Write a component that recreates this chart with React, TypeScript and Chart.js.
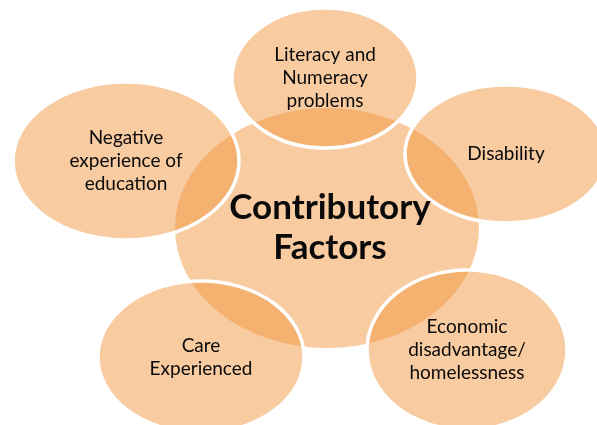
import React, { useEffect, useRef } from "react";
import { Chart, registerables } from "chart.js";

Chart.register(...registerables);

// Node labels: index 0 is the hub, the rest are the surrounding factors
const categories: string[][] = [
  ["Contributory", "Factors"],
  ["Literacy and", "Numeracy", "problems"],
  ["Disability"],
  ["Economic", "disadvantage/", "homelessness"],
  ["Care", "Experienced"],
  ["Negative", "experience of", "education"],
];

// Node centres and half-axes in diagram units
const nodeX = [327, 325, 506, 467, 201, 126];
const nodeY = [228, 78, 154, 350, 357, 161];
const nodeRx = [152, 93, 101, 100, 103, 113];
const nodeRy = [120, 70, 69, 80, 76, 79];

const FILL = "rgba(241,151,66,0.5)";

const diagramPlugin = {
  id: "radialDiagram",
  beforeDatasetsDraw(chart: any) {
    const { ctx, scales } = chart;
    const xs = scales.x;
    const ys = scales.y;
    const meta = chart.getDatasetMeta(0);
    meta.data.forEach((pt: any, i: number) => {
      const rx = Math.abs(xs.getPixelForValue(nodeX[i] + nodeRx[i]) - pt.x);
      const ry = Math.abs(ys.getPixelForValue(nodeY[i] + nodeRy[i]) - pt.y);
      ctx.save();
      ctx.beginPath();
      ctx.ellipse(pt.x, pt.y, rx, ry, 0, 0, Math.PI * 2);
      ctx.fillStyle = FILL;
      ctx.fill();
      if (i > 0) {
        ctx.lineWidth = 3.5;
        ctx.strokeStyle = "#ffffff";
        ctx.stroke();
      }
      ctx.restore();
    });
  },
  afterDatasetsDraw(chart: any) {
    const { ctx } = chart;
    const meta = chart.getDatasetMeta(0);
    meta.data.forEach((pt: any, i: number) => {
      const lines = categories[i];
      const hub = i === 0;
      const lh = hub ? 40 : 22.8;
      ctx.save();
      ctx.fillStyle = "#0a0a0a";
      ctx.textAlign = "center";
      ctx.textBaseline = "middle";
      ctx.font = hub ? "bold 35px Lato" : "19px Lato";
      const startY = pt.y - ((lines.length - 1) * lh) / 2;
      lines.forEach((t, k) => {
        ctx.fillText(t, pt.x + (hub ? 3 : 0), startY + k * lh);
      });
      ctx.restore();
    });
  },
};

export default function App() {
  const ref = useRef<HTMLCanvasElement | null>(null);
  useEffect(() => {
    if (!ref.current) return;
    const chart = new Chart(ref.current, {
      type: "scatter",
      data: {
        datasets: [
          {
            data: nodeX.map((x, i) => ({ x, y: nodeY[i] })),
            pointRadius: 0,
            pointHoverRadius: 0,
          },
        ],
      },
      options: {
        animation: false,
        responsive: false,
        events: [],
        layout: { padding: 0 },
        plugins: { legend: { display: false }, tooltip: { enabled: false } },
        scales: {
          x: { type: "linear", min: 0, max: 597, display: false },
          y: { type: "linear", min: 0, max: 425, reverse: true, display: false },
        },
      },
      plugins: [diagramPlugin],
    });
    return () => chart.destroy();
  }, []);
  return (
    <div style={{ position: "absolute", left: 0, top: 0, width: 597, height: 425, background: "#fff" }}>
      <canvas ref={ref} width={597} height={425} />
    </div>
  );
}
